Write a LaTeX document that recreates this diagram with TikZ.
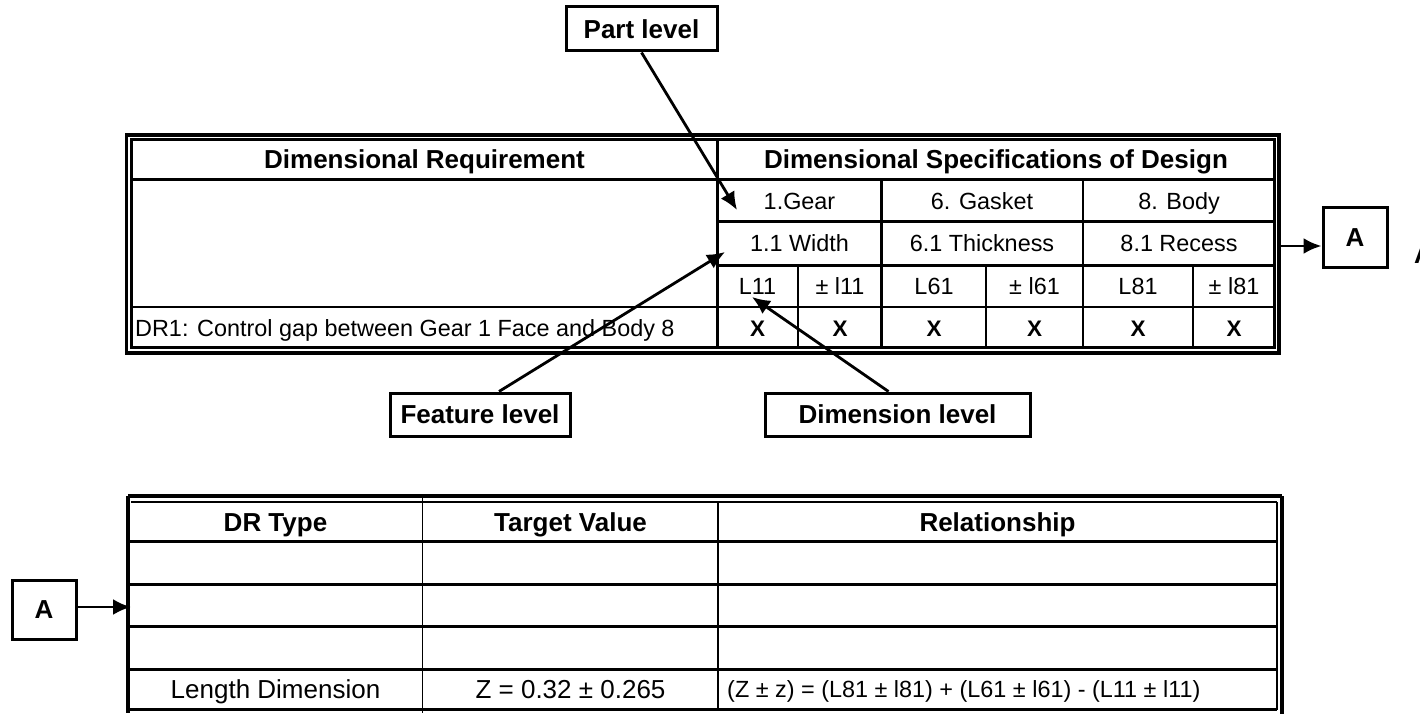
\documentclass[tikz,border=0pt]{standalone}
\usepackage{fontspec}
\setmainfont{Liberation Sans}
\usetikzlibrary{arrows.meta}
\begin{document}
\begin{tikzpicture}[x=1pt,y=-1pt,
  grid/.style={line width=2.8pt},
  thin grid/.style={line width=1.8pt},
  outerline/.style={line width=3.2pt},
  innerline/.style={line width=2.2pt},
  hb/.style={font=\fontsize{26}{30}\selectfont\bfseries, inner sep=0pt, text height=18.6pt, text depth=0pt},
  xb/.style={font=\fontsize{22.5}{26}\selectfont\bfseries, inner sep=0pt, text height=16.1pt, text depth=0pt},
  tr/.style={font=\fontsize{23.4}{28}\selectfont, inner sep=0pt, text height=16.75pt, text depth=0pt},
  br/.style={font=\fontsize{26}{30}\selectfont, inner sep=0pt, text height=18.6pt, text depth=0pt},
  callout/.style={draw, line width=3pt, inner sep=0pt, text height=18.6pt, text depth=0pt, font=\fontsize{26}{30}\selectfont\bfseries},
  arr/.style={line width=2.8pt, -{Latex[length=18pt,width=16pt]}},
]
\useasboundingbox (0,0) rectangle (1420,714);

% ---------------- top table ----------------
\draw[outerline] (126.5,135) rectangle (1279,353);
\draw[innerline] (131.5,139.5) rectangle (1274.5,347.5);
\draw[grid] (131.5,179.5) -- (1274.5,179.5);
\draw[grid] (717.5,221.5) -- (1274.5,221.5);
\draw[grid] (717.5,265.5) -- (1274.5,265.5);
\draw[grid] (131.5,307) -- (1274.5,307);
\draw[grid] (717.5,139.5) -- (717.5,347.5);
\draw[grid] (881.5,179.5) -- (881.5,347.5);
\draw[grid] (1083,179.5) -- (1083,347.5);
\draw[grid] (798,265.5) -- (798,347.5);
\draw[grid] (986,265.5) -- (986,347.5);
\draw[grid] (1193,265.5) -- (1193,347.5);

\node[hb] (hdr1) at (424.5,159.5) {Dimensional Requirement};
\node[hb] (hdr2) at (996,159.5) {Dimensional Specifications of Design};
\node[tr] (gear) at (799.5,201) {1.Gear};
\node[tr] (gasket) at (982,201) {6. Gasket};
\node[tr] (body) at (1179,201) {8. Body};
\node[tr] (width) at (799.5,243.5) {1.1 Width};
\node[tr] (thick) at (982,243.5) {6.1 Thickness};
\node[tr] (recess) at (1179,243.5) {8.1 Recess};
\node[tr] (L11) at (757.5,286) {L11};
\node[tr] (l11) at (840,286) {± l11};
\node[tr] (L61) at (934,286) {L61};
\node[tr] (l61) at (1034.5,286) {± l61};
\node[tr] (L81) at (1138,286) {L81};
\node[tr] (l81) at (1234,286) {± l81};
\node[tr, anchor=west] (dr1) at (135,328) {DR1: Control gap between Gear 1 Face and Body 8};
\node[xb] (x1) at (757.5,328) {X};
\node[xb] (x2) at (840,328) {X};
\node[xb] (x3) at (934,328) {X};
\node[xb] (x4) at (1034.5,328) {X};
\node[xb] (x5) at (1138,328) {X};
\node[xb] (x6) at (1234,328) {X};

% ---------------- callouts ----------------
\node[callout, minimum width=151pt, minimum height=44pt] (part) at (641.5,29) {Part level};
\node[callout, minimum width=180pt, minimum height=43pt] (feat) at (480,414.5) {Feature level};
\node[callout, minimum width=265pt, minimum height=43pt] (dimlvl) at (897.5,414.5) {Dimension level};
\node[callout, minimum width=64pt, minimum height=60pt] (Atop) at (1355,237) {A};
\node[callout, minimum width=64pt, minimum height=59pt] (Abot) at (44,609.5) {A};
\node[font=\fontsize{26}{30}\selectfont\bfseries, inner sep=0pt, anchor=base west] (Aedge) at (1414,263) {A};

\coordinate (partTip) at (737,210);
\coordinate (featTip) at (725,252);
\coordinate (dimTip) at (752,297);
\coordinate (tblRight) at (1280,246);
\coordinate (botTip) at (131,607);

\draw[arr] (part.south) -- (partTip);
\draw[arr] ([xshift=19pt]feat.north) -- (featTip);
\draw[arr] ([xshift=-9pt]dimlvl.north) -- (dimTip);
\draw[arr] (tblRight) -- (Atop.west |- tblRight);
\draw[arr] (Abot.east |- botTip) -- (botTip);

% ---------------- bottom table ----------------
\draw[outerline] (128,496) -- (1282,496);
\draw[innerline] (131,502) -- (1277,502);
\draw[line width=3.5pt] (128,496) -- (128,713);
\draw[innerline] (1277,502) -- (1277,709.5);
\draw[outerline] (1282,496) -- (1282,714);
\draw[grid] (128,541.5) -- (1277,541.5);
\draw[grid] (128,584.5) -- (1277,584.5);
\draw[grid] (128,626.5) -- (1277,626.5);
\draw[grid] (128,669.5) -- (1277,669.5);
\draw[line width=3pt] (128,709.5) -- (1277,709.5);
\draw[thin grid] (422.5,496) -- (422.5,713);
\draw[grid] (718,502) -- (718,709.5);

\node[hb] (bh1) at (275.5,522.5) {DR Type};
\node[hb] (bh2) at (570.5,522.5) {Target Value};
\node[hb] (bh3) at (997.5,522.5) {Relationship};
\node[br] (ld) at (275.5,689) {Length Dimension};
\node[br] (zv) at (570.5,689) {Z = 0.32 ± 0.265};
\node[tr, anchor=west] (rel) at (727,689) {(Z ± z) = (L81 ± l81) + (L61 ± l61) - (L11 ± l11)};
\end{tikzpicture}
\end{document}
